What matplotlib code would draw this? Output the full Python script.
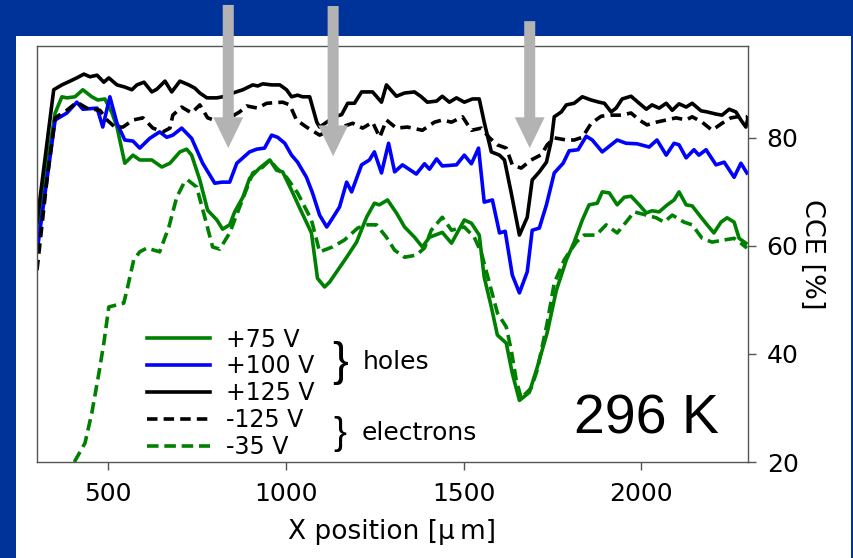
import matplotlib.pyplot as plt
from matplotlib.patches import Rectangle, FancyArrow

# CCE scans across the detector, 296 K
x_p75 = [300, 351, 370, 384, 407, 429, 454, 471, 491, 511, 525, 547, 570, 589, 623, 651, 674, 702, 721, 735,
         758, 780, 806, 822, 842, 856, 879, 898, 926, 955, 974, 991, 1016, 1039, 1072, 1089, 1109, 1123, 1146, 1171,
         1199, 1227, 1249, 1263, 1286, 1311, 1334, 1362, 1384, 1404, 1440, 1466, 1502, 1522, 1544, 1558, 1578, 1595,
         1620, 1637, 1657, 1685, 1707, 1735, 1761, 1789, 1811, 1834, 1853, 1876, 1890, 1910, 1932, 1952, 1971, 1994,
         2014, 2030, 2050, 2073, 2092, 2106, 2126, 2143, 2168, 2185, 2204, 2224, 2241, 2261, 2275, 2294]
y_p75 = [62.9, 84.6, 87.6, 87.4, 87.6, 88.9, 87.6, 87.0, 87.2, 84.6, 82.0, 75.3, 76.8, 75.9, 75.9, 74.6, 75.3, 77.4, 77.9, 76.8,
         72.2, 66.6, 64.8, 63.1, 63.9, 66.3, 69.0, 72.5, 74.4, 75.9, 74.0, 73.7, 70.3, 67.0, 62.4, 54.0, 52.4, 53.3, 55.5, 57.9,
         60.7, 65.3, 67.9, 67.6, 68.5, 66.1, 63.5, 61.6, 59.8, 61.6, 62.5, 60.5, 64.8, 64.2, 62.0, 54.2, 48.7, 43.5,
         42.0, 36.4, 31.4, 32.9, 37.5, 43.9, 51.8, 57.4, 60.7, 64.8, 67.6, 67.9, 70.0, 69.8, 67.6, 69.0, 69.2, 67.6,
         66.1, 66.5, 66.3, 67.6, 68.5, 70.0, 67.6, 67.4, 65.3, 63.9, 62.4, 64.4, 65.2, 64.4, 61.4, 60.5]

x_p100 = [300, 351, 384, 412, 429, 469, 485, 505, 525, 547, 570, 589, 617, 645, 665, 682, 707, 735, 766, 800,
          820, 842, 862, 898, 918, 940, 960, 977, 997, 1016, 1033, 1058, 1075, 1095, 1115, 1131, 1151, 1171, 1185, 1213,
          1235, 1249, 1269, 1289, 1306, 1328, 1367, 1390, 1404, 1424, 1440, 1480, 1502, 1522, 1542, 1558, 1581, 1601,
          1617, 1637, 1657, 1679, 1693, 1713, 1733, 1755, 1780, 1797, 1822, 1845, 1862, 1890, 1932, 1957, 1988, 2022,
          2044, 2070, 2092, 2106, 2126, 2148, 2162, 2182, 2210, 2233, 2261, 2280, 2297]
y_p100 = [58.9, 83.3, 84.6, 86.6, 85.3, 85.5, 82.0, 87.6, 82.7, 79.6, 79.4, 78.1, 79.9, 81.1, 80.1, 80.5, 81.8, 79.9, 75.3, 71.6,
          71.8, 71.8, 75.3, 77.4, 77.9, 78.1, 80.5, 80.1, 79.0, 76.8, 75.5, 72.7, 69.8, 65.7, 63.5, 65.1, 67.2, 71.8, 70.0, 75.0,
          75.9, 77.4, 73.5, 79.0, 73.7, 75.0, 73.3, 75.2, 74.2, 76.1, 74.8, 75.0, 76.8, 75.2, 78.1, 68.1, 68.5, 62.4,
          62.7, 54.6, 51.3, 55.2, 62.9, 63.3, 67.6, 73.5, 75.3, 77.6, 77.8, 80.3, 79.6, 77.4, 79.6, 79.0, 78.9, 78.3,
          79.6, 76.8, 79.0, 78.7, 76.3, 77.8, 76.8, 77.8, 75.0, 75.5, 72.7, 75.3, 73.5]

x_p125 = [300, 347, 370, 393, 412, 432, 449, 469, 488, 502, 525, 547, 567, 581, 601, 623, 637, 660, 679, 702,
          727, 744, 758, 778, 806, 822, 851, 879, 907, 921, 935, 960, 983, 1002, 1016, 1033, 1047, 1067, 1087, 1095,
          1115, 1137, 1157, 1174, 1193, 1213, 1230, 1244, 1269, 1283, 1311, 1334, 1362, 1381, 1398, 1424, 1440, 1460,
          1480, 1502, 1525, 1544, 1558, 1578, 1601, 1615, 1634, 1657, 1679, 1693, 1713, 1733, 1747, 1755, 1775, 1789,
          1811, 1834, 1859, 1881, 1896, 1915, 1929, 1946, 1971, 1994, 2014, 2030, 2050, 2070, 2087, 2106, 2126, 2143,
          2168, 2185, 2210, 2227, 2247, 2266, 2280, 2294, 2300]
y_p125 = [64.4, 88.9, 89.8, 90.5, 91.1, 91.8, 91.3, 91.6, 90.3, 91.1, 89.8, 89.4, 88.9, 89.8, 90.3, 88.5, 89.0, 90.5, 88.5, 90.5,
          89.8, 89.2, 88.3, 87.4, 87.4, 87.6, 88.3, 88.9, 89.8, 89.6, 90.0, 89.8, 89.8, 88.9, 87.6, 87.9, 87.6, 87.6, 82.9, 82.0,
          82.9, 83.9, 84.3, 86.4, 86.4, 88.5, 88.5, 88.5, 86.6, 89.8, 87.7, 88.3, 88.5, 87.6, 86.6, 86.8, 87.7, 86.6,
          87.4, 86.6, 87.2, 87.2, 82.9, 77.4, 76.8, 75.9, 69.8, 62.0, 65.3, 72.2, 73.7, 75.5, 79.6, 83.9, 84.8, 86.1,
          86.4, 87.6, 87.0, 86.6, 86.4, 84.8, 85.5, 87.2, 87.7, 86.4, 85.3, 86.1, 85.5, 86.4, 85.1, 86.3, 85.7, 86.4,
          85.0, 84.8, 84.4, 84.2, 85.3, 84.8, 83.3, 82.0, 83.7]

x_m125 = [300, 328, 351, 384, 412, 440, 477, 497, 519, 542, 570, 598, 626, 654, 674, 682, 707, 735, 758, 780,
          806, 831, 870, 890, 921, 946, 991, 1011, 1030, 1058, 1095, 1123, 1157, 1188, 1216, 1244, 1264, 1283, 1311, 1342,
          1384, 1418, 1440, 1466, 1497, 1522, 1550, 1573, 1595, 1620, 1637, 1662, 1690, 1719, 1735, 1755, 1789, 1811,
          1834, 1859, 1887, 1915, 1943, 1971, 1994, 2016, 2042, 2070, 2098, 2126, 2143, 2171, 2199, 2227, 2252, 2280,
          2297]
y_m125 = [55.5, 72.2, 83.7, 85.1, 86.6, 85.5, 85.1, 83.3, 82.0, 82.0, 83.3, 83.7, 81.8, 81.1, 81.8, 84.2, 85.7, 84.6, 86.1, 83.7,
          83.1, 83.3, 84.8, 85.9, 85.5, 86.4, 86.6, 86.1, 83.3, 82.0, 80.5, 81.4, 82.0, 82.7, 81.8, 82.9, 80.1, 83.3, 81.8, 82.0,
          81.4, 82.9, 83.3, 82.9, 83.9, 81.4, 81.8, 80.0, 78.7, 78.1, 75.0, 74.4, 75.9, 76.9, 78.7, 80.0, 79.6, 79.6,
          80.1, 82.7, 84.0, 84.2, 84.2, 84.6, 83.3, 82.4, 82.9, 83.3, 83.7, 83.3, 83.9, 82.9, 81.4, 82.7, 83.7, 84.0,
          83.9]

x_m35 = [405, 435, 454, 474, 488, 502, 544, 553, 572, 589, 609, 645, 671, 693, 713, 724, 749, 772, 794, 814,
         842, 870, 907, 935, 955, 974, 1002, 1033, 1072, 1095, 1131, 1165, 1202, 1230, 1255, 1283, 1306, 1334, 1367, 1390,
         1409, 1440, 1466, 1502, 1530, 1550, 1595, 1620, 1634, 1648, 1662, 1690, 1707, 1735, 1755, 1783, 1792, 1817,
         1839, 1873, 1901, 1932, 1957, 1980, 2014, 2042, 2064, 2087, 2120, 2143, 2171, 2199, 2233, 2261, 2280, 2297]
y_m35 = [20.0, 23.5, 29.0, 36.4, 42.0, 48.7, 49.4, 51.8, 57.4, 58.9, 59.6, 58.9, 63.5, 69.0, 71.6, 72.2, 70.9, 65.3, 59.8, 59.4,
         62.4, 67.2, 73.5, 74.6, 75.9, 74.4, 72.7, 69.8, 64.8, 58.9, 59.8, 61.1, 63.3, 63.9, 63.9, 61.6, 59.2, 57.9, 58.3, 59.6,
         62.9, 65.3, 62.9, 63.5, 61.6, 58.7, 47.6, 45.0, 40.7, 35.2, 31.8, 33.7, 37.0, 45.7, 53.1, 57.4, 58.3, 60.7,
         62.0, 62.0, 63.9, 62.4, 64.4, 66.3, 65.7, 65.2, 64.4, 65.7, 64.4, 63.9, 61.4, 60.7, 61.1, 61.4, 60.5, 59.6]

# dips marked with arrows: x position, tip height, top of shaft (above the frame)
arrow_x = [838, 1133, 1686]
arrow_tip = [78.1, 76.6, 78.1]
arrow_top = [104.6, 104.4, 101.6]

x_ticks = [500, 1000, 1500, 2000]
y_ticks = [20, 40, 60, 80]

GREEN = '#008000'
BLUE = '#0000ff'
lw = 2.6

fig = plt.figure(figsize=(8.54, 5.58), dpi=100)
fig.patch.set_facecolor('#003399')
# white slide panel behind the plot
fig.patches.append(Rectangle((16 / 854, 0), 835 / 854, 522 / 558, transform=fig.transFigure,
                             facecolor='white', edgecolor='none', zorder=-10))

ax = fig.add_axes([37 / 854, 96 / 558, 711 / 854, 416 / 558])
ax.set_facecolor('none')
ax.plot(x_p75, y_p75, color=GREEN, lw=lw, label='+75 V')
ax.plot(x_p100, y_p100, color=BLUE, lw=lw, label='+100 V')
ax.plot(x_p125, y_p125, color='black', lw=lw, label='+125 V')
ax.plot(x_m125, y_m125, color='black', lw=lw, ls=(0, (2.9, 1.7)), label='-125 V')
ax.plot(x_m35, y_m35, color=GREEN, lw=lw, ls=(0, (3.2, 1.6)), label='-35 V')

ax.set_xlim(300, 2300)
ax.set_ylim(20, 97)
ax.set_xticks(x_ticks)
ax.set_yticks(y_ticks)
ax.yaxis.tick_right()
ax.yaxis.set_label_position('right')
ax.tick_params(axis='both', direction='out', length=5.5, width=1, color='#555555',
               labelsize=18, pad=8)
ax.tick_params(axis='x', pad=9)
for s in ax.spines.values():
    s.set_color('#555555')
    s.set_linewidth(1)

ax.set_xlabel('X position [\u03bc\u2009m]', fontsize=19, labelpad=9)
ax.set_ylabel('CCE [%]', fontsize=19.5, rotation=-90, labelpad=0, va='bottom')

for xa, yt, ytop in zip(arrow_x, arrow_tip, arrow_top):
    ax.add_patch(FancyArrow(xa, ytop, 0, yt - ytop, width=31, head_width=84, head_length=5.7,
                            length_includes_head=True, color='#b3b3b3', lw=0,
                            clip_on=False, zorder=5))

ax.legend(loc='upper left', bbox_to_anchor=(0.1547, 0.323), frameon=False, fontsize=17,
          handlelength=2.65, handletextpad=0.7, labelspacing=0.12, borderpad=0, borderaxespad=0)

ax.text(0.426, 0.238, '}', transform=ax.transAxes, fontsize=34, family='Liberation Sans',
        ha='center', va='center')
ax.text(0.4585, 0.240, 'holes', transform=ax.transAxes, fontsize=18, va='center')
ax.text(0.426, 0.068, '}', transform=ax.transAxes, fontsize=28, family='Liberation Sans',
        ha='center', va='center')
ax.text(0.457, 0.0697, 'electrons', transform=ax.transAxes, fontsize=18, va='center')
ax.text(0.959, 0.0697, '296 K', transform=ax.transAxes, fontsize=40, family='Liberation Sans',
        ha='right', va='baseline')

fig.savefig('out.png', dpi=100, facecolor=fig.get_facecolor())
